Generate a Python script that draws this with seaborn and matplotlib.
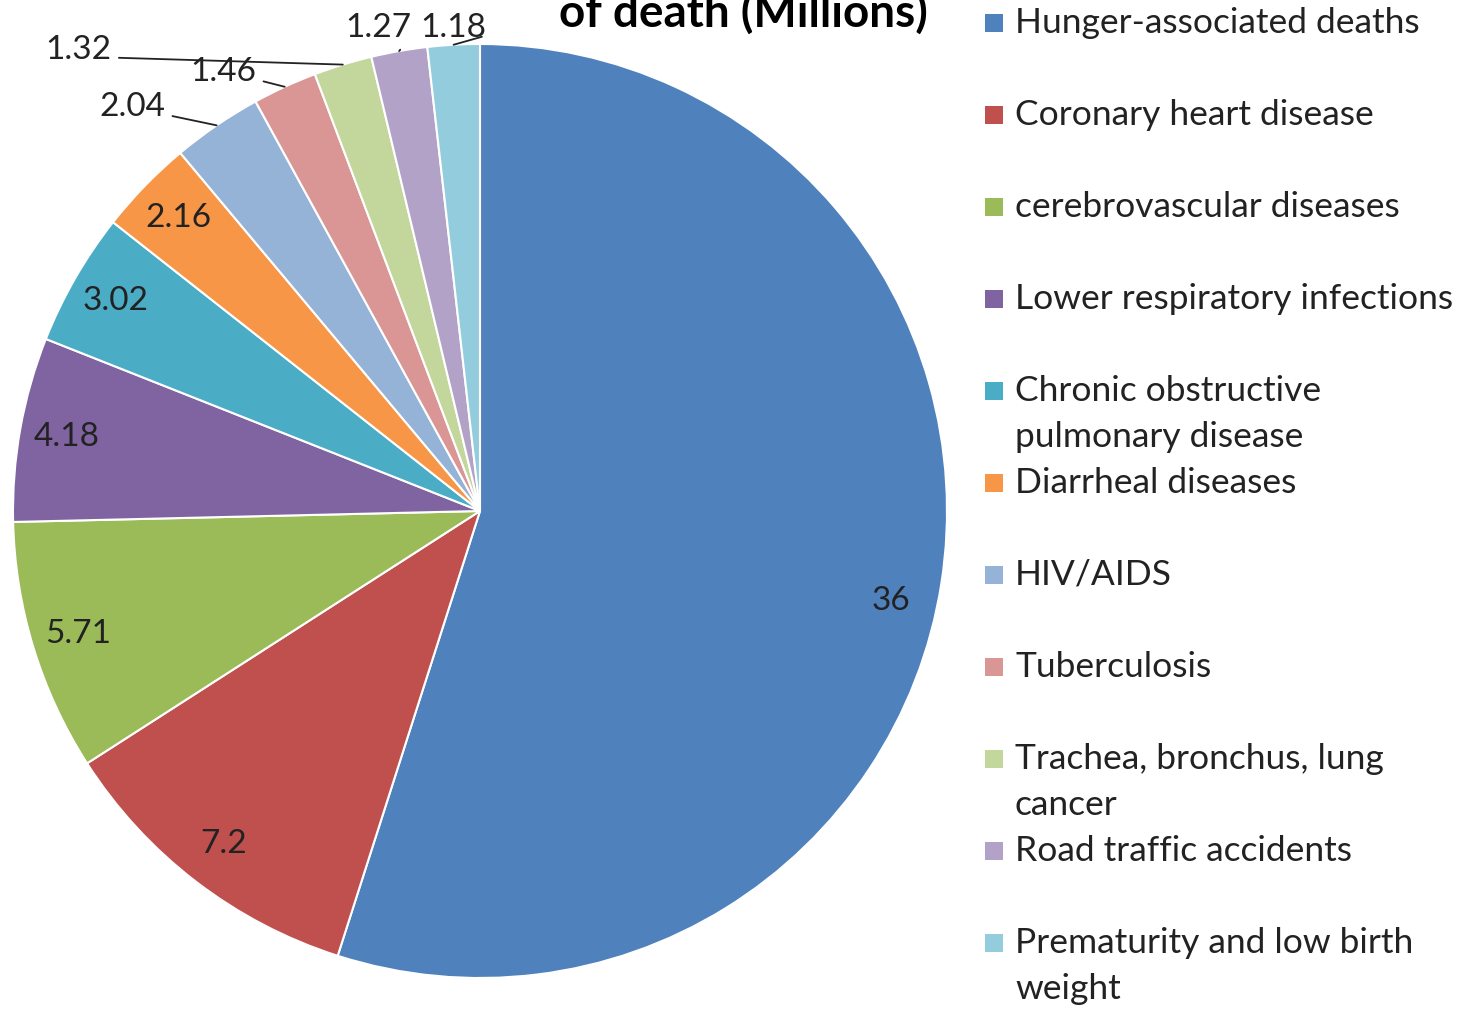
import numpy as np
import matplotlib.pyplot as plt
from matplotlib.patches import Rectangle
import seaborn as sns

# data (millions of deaths)
causes = ["Hunger-associated deaths", "Coronary heart disease", "cerebrovascular diseases",
          "Lower respiratory infections", "Chronic obstructive\npulmonary disease",
          "Diarrheal diseases", "HIV/AIDS", "Tuberculosis",
          "Trachea, bronchus, lung\ncancer", "Road traffic accidents",
          "Prematurity and low birth\nweight"]
deaths = [36, 7.2, 5.71, 4.18, 3.02, 2.16, 2.04, 1.46, 1.32, 1.27, 1.18]
value_labels = ["36", "7.2", "5.71", "4.18", "3.02", "2.16", "2.04", "1.46", "1.32", "1.27", "1.18"]

# excel 2007 style colours
colors = ["#4F81BD", "#C0504D", "#9BBB59", "#8064A2", "#4BACC6", "#F79646",
          "#95B3D7", "#D99694", "#C3D69B", "#B3A2C7", "#93CDDD"]

# where the small slice labels sit (outside the pie, with leader lines)
outside_pos = {6: (-0.745, 0.865), 7: (-0.55, 0.940), 8: (-0.86, 0.987),
               9: (-0.218, 1.034), 10: (-0.058, 1.034)}
inside_turn = {0: -3.5}  # extra rotation (deg) for a few inside labels

W, H = 1463, 1010
sns.set_theme(style="white")
plt.rcParams["font.family"] = ["Lato", "DejaVu Sans"]

fig = plt.figure(figsize=(W / 100, H / 100), dpi=100)
fig.patch.set_facecolor("white")

cx, cy, R = 480, 511, 467  # pie centre / radius in pixels
ax = fig.add_axes([(cx - R) / W, 1 - (cy + R) / H, 2 * R / W, 2 * R / H])
wedges, _ = ax.pie(deaths, colors=colors, startangle=90, counterclock=False,
                   wedgeprops=dict(edgecolor="white", linewidth=1.5))
ax.set_xlim(-1, 1)
ax.set_ylim(-1, 1)

for i, w in enumerate(wedges):
    mid_deg = (w.theta1 + w.theta2) / 2
    mid = np.deg2rad(mid_deg)
    edge = (np.cos(mid), np.sin(mid))
    if i in outside_pos:
        tx, ty = outside_pos[i]
        ax.annotate(value_labels[i], xy=edge, xytext=(tx, ty), ha="center", va="center",
                    fontsize=24, color="#222222", annotation_clip=False,
                    arrowprops=dict(arrowstyle="-", color="#222222", lw=1.3,
                                    relpos=(1, 0.25), shrinkA=3, shrinkB=0))
    else:
        a = np.deg2rad(mid_deg + inside_turn.get(i, 0))
        r = 0.9
        ax.text(r * np.cos(a), r * np.sin(a), value_labels[i], ha="center", va="center",
                fontsize=24, color="#222222")

# title, top line is cut off in the original
fig.text(743 / W, 1 - 27 / H, "of death (Millions)", ha="center", va="baseline",
         fontsize=33, fontweight="bold", color="black")

# legend drawn by hand so wrapped entries keep the fixed excel spacing
lax = fig.add_axes([0, 0, 1, 1], zorder=-1)
lax.set_xlim(0, W)
lax.set_ylim(H, 0)
lax.axis("off")
for i, (name, col) in enumerate(zip(causes, colors)):
    base = 33 + 92 * i
    lax.add_patch(Rectangle((985, base - 19), 18, 18, facecolor=col, edgecolor="none"))
    for j, line in enumerate(name.split("\n")):
        lax.text(1015, base + 46 * j, line, ha="left", va="baseline",
                 fontsize=25.5, color="#222222")

fig.savefig("out.png", dpi=100)
